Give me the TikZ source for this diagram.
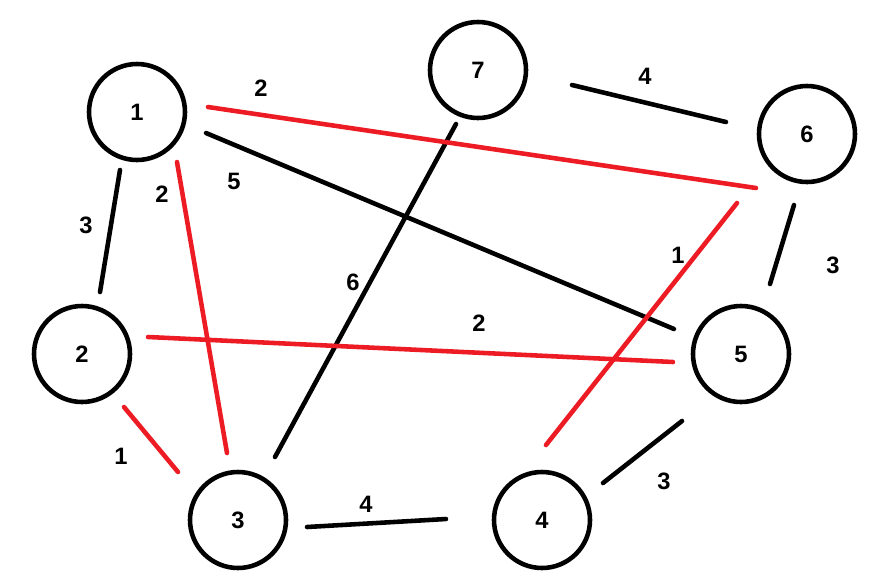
\documentclass[tikz,border=0pt]{standalone}
\usepackage{fontspec}
\setmainfont{Liberation Sans}
\usetikzlibrary{calc}
\definecolor{pathred}{RGB}{237,28,36}
\tikzset{every picture/.style={line width=2.6pt,line cap=round}}
\tikzset{
    vertex/.style={draw,circle,minimum size=96*0.02cm,inner sep=0pt,font=\fontsize{13.5}{15}\selectfont\bfseries},
    wlabel/.style={font=\fontsize{13.5}{15}\selectfont\bfseries},
    mst/.style={pathred},
}

\begin{document}
\begin{tikzpicture}[x=0.02cm,y=-0.02cm]
    \useasboundingbox (0,0) rectangle (870,586);

    % === Vertices ===
    \node[vertex] (n1) at (137,112) {1};
    \node[vertex] (n2) at (82,354) {2};
    \node[vertex] (n3) at (238,520) {3};
    \node[vertex] (n4) at (542,520) {4};
    \node[vertex] (n5) at (741,354) {5};
    \node[vertex] (n6) at (807,134) {6};
    \node[vertex] (n7) at (478,70) {7};

    % === Black edges ===
    \draw ($(n1)+(-17,58)$) -- ($(n2)+(18,-62)$);
    \draw ($(n1)+(69,21)$) -- ($(n5)+(-67,-25)$);
    \draw ($(n7)+(-22,54)$) -- ($(n3)+(37,-63)$);
    \draw ($(n7)+(94,15)$) -- ($(n6)+(-81,-12)$);
    \draw ($(n6)+(-13,71)$) -- ($(n5)+(29,-70)$);
    \draw ($(n3)+(69,7)$) -- ($(n4)+(-96,-1)$);
    \draw ($(n4)+(61,-37)$) -- ($(n5)+(-59,67)$);

    % === Red edges ===
    \draw[mst] ($(n1)+(71,-5)$) -- ($(n6)+(-51,54)$);
    \draw[mst] ($(n1)+(40,50)$) -- ($(n3)+(-11,-67)$);
    \draw[mst] ($(n6)+(-70,69)$) -- ($(n4)+(4,-75)$);
    \draw[mst] ($(n2)+(66,-17)$) -- ($(n5)+(-68,8)$);
    \draw[mst] ($(n2)+(42,53)$) -- ($(n3)+(-60,-48)$);

    % === Weights ===
    \node[wlabel] (w12) at (86,225) {3};
    \node[wlabel] (w16) at (261,88) {2};
    \node[wlabel] (w15) at (234,181) {5};
    \node[wlabel] (w13) at (162,194) {2};
    \node[wlabel] (w73) at (353,282) {6};
    \node[wlabel] (w76) at (645,76) {4};
    \node[wlabel] (w65) at (833,265) {3};
    \node[wlabel] (w64) at (678,255) {1};
    \node[wlabel] (w25) at (479,323) {2};
    \node[wlabel] (w23) at (121,456) {1};
    \node[wlabel] (w34) at (366,504) {4};
    \node[wlabel] (w45) at (664,481) {3};
\end{tikzpicture}
\end{document}
